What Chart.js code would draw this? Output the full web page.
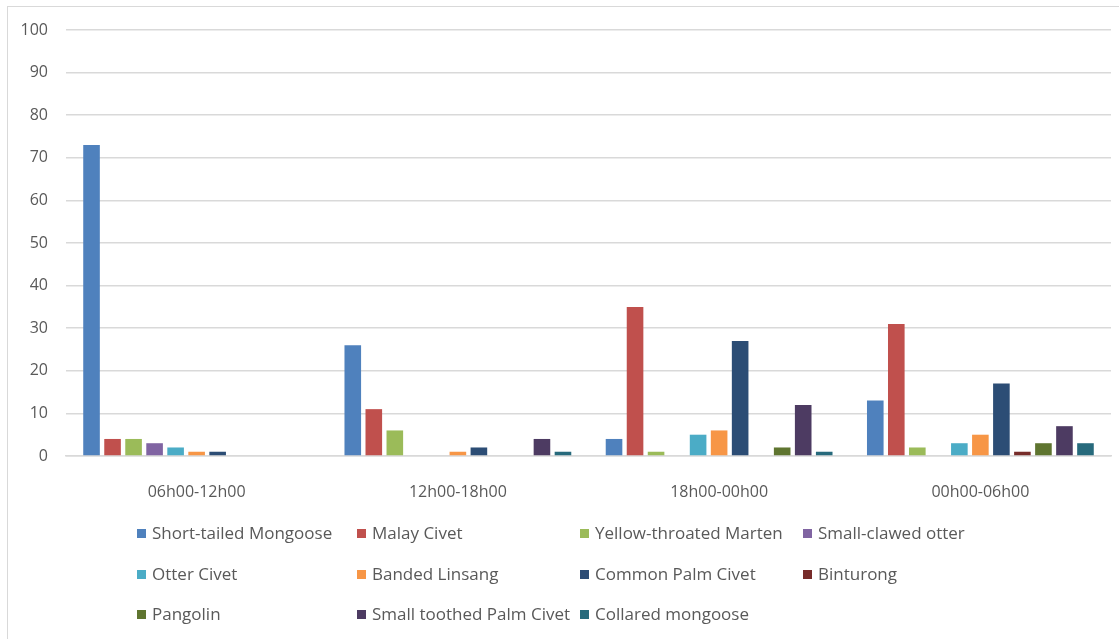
<!DOCTYPE html>
<html>
<head>
<meta charset="utf-8">
<script src="https://cdn.jsdelivr.net/npm/chart.js@4.4.1/dist/chart.umd.min.js"></script>
<style>
  body { margin: 0; background: #fff; }
  #wrap { position: relative; width: 1119px; height: 639px; overflow: hidden; }
  #frame { position: absolute; left: 7px; top: 6px; width: 1200px; height: 700px; border-left: 1.5px solid #d9d9d9; border-top: 1.5px solid #d9d9d9; }
  canvas { position: absolute; left: 0; top: 0; }
  .lg { position: absolute; font-family: "Open Sans", sans-serif; font-size: 17px; color: #595959; white-space: nowrap; line-height: 20px; }
  .lg span { display: inline-block; width: 9px; height: 9px; margin-right: 6px; vertical-align: 1px; }
</style>
</head>
<body>
<div id="wrap">
  <div id="frame"></div>
  <canvas id="chart" width="1119" height="639"></canvas>
  <div id="legend"></div>
</div>
<script>
const periods = ["06h00-12h00", "12h00-18h00", "18h00-00h00", "00h00-06h00"];
const species = ["Short-tailed Mongoose", "Malay Civet", "Yellow-throated Marten", "Small-clawed otter",
  "Otter Civet", "Banded Linsang", "Common Palm Civet", "Binturong",
  "Pangolin", "Small toothed Palm Civet", "Collared mongoose"];
const colors = ["#4f81bd", "#c0504d", "#9bbb59", "#8064a2", "#4bacc6", "#f79646",
  "#2c4d75", "#772c2a", "#5f7530", "#4d3b62", "#276a7c"];

// one array per species, values per period
const shortTailedMongoose = [73, 26, 4, 13];
const malayCivet = [4, 11, 35, 31];
const yellowThroatedMarten = [4, 6, 1, 2];
const smallClawedOtter = [3, 0, 0, 0];
const otterCivet = [2, 0, 5, 3];
const bandedLinsang = [1, 1, 6, 5];
const commonPalmCivet = [1, 2, 27, 17];
const binturong = [0, 0, 0, 1];
const pangolin = [0, 0, 2, 3];
const smallToothedPalmCivet = [0, 4, 12, 7];
const collaredMongoose = [0, 1, 1, 3];
const yTicks = [0, 10, 20, 30, 40, 50, 60, 70, 80, 90, 100];

const series = [shortTailedMongoose, malayCivet, yellowThroatedMarten, smallClawedOtter,
  otterCivet, bandedLinsang, commonPalmCivet, binturong,
  pangolin, smallToothedPalmCivet, collaredMongoose];

const ctx = document.getElementById("chart").getContext("2d");
new Chart(ctx, {
  type: "bar",
  data: {
    labels: periods,
    datasets: series.map((d, i) => ({
      label: species[i],
      data: d,
      backgroundColor: colors[i],
      categoryPercentage: 0.885,
      barPercentage: 0.79
    }))
  },
  options: {
    responsive: false,
    animation: false,
    layout: { padding: { top: 30, right: 8, left: 0, bottom: 0 } },
    plugins: { legend: { display: false }, tooltip: { enabled: false } },
    scales: {
      x: {
        grid: { display: false },
        border: { color: "#d9d9d9", width: 1.5 },
        ticks: { color: "#595959", font: { family: "Open Sans", size: 16 }, padding: 19 },
        afterFit: s => { s.height = 183; }
      },
      y: {
        min: 0, max: 100,
        afterBuildTicks: s => { s.ticks = yTicks.map(v => ({ value: v })); },
        grid: { color: "#d9d9d9", lineWidth: 1.5, drawTicks: false },
        border: { display: false },
        ticks: { color: "#595959", font: { family: "Open Sans", size: 16 }, padding: 18 },
        afterFit: s => { s.width = 66; }
      }
    }
  }
});

// legend laid out in aligned columns like the original
const colX = [137, 357, 580, 803];
const rowY = [523, 564, 604];
const legend = document.getElementById("legend");
species.forEach((name, i) => {
  const el = document.createElement("div");
  el.className = "lg";
  el.style.left = colX[i % 4] + "px";
  el.style.top = rowY[Math.floor(i / 4)] + "px";
  el.innerHTML = '<span style="background:' + colors[i] + '"></span>' + name;
  legend.appendChild(el);
});
</script>
</body>
</html>
